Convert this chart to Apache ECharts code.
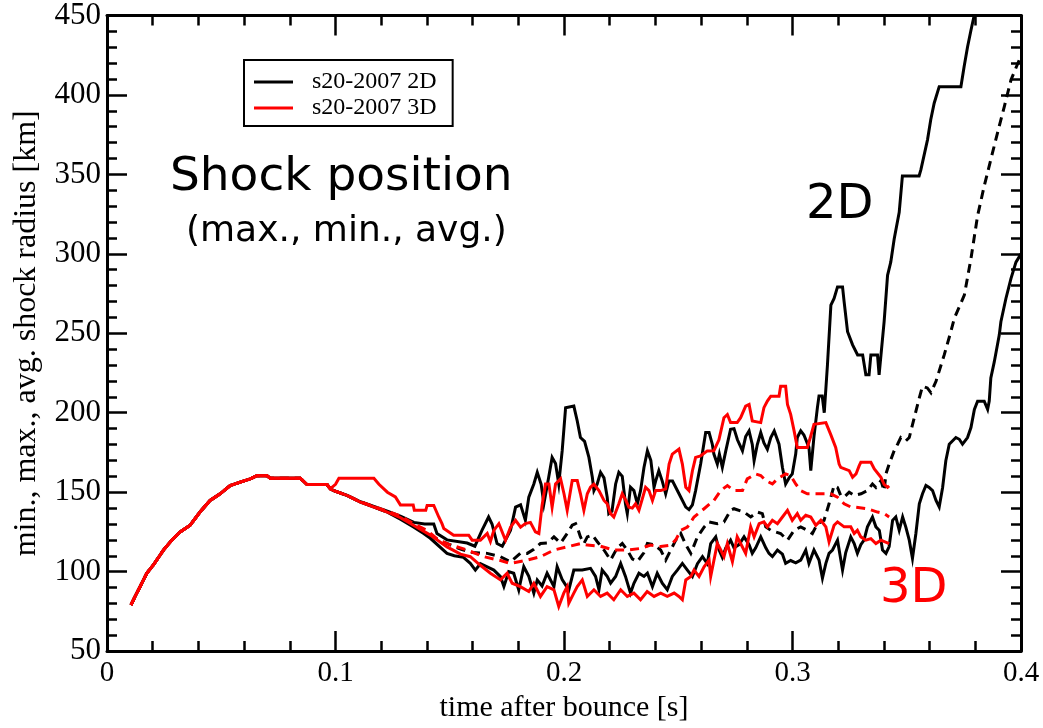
<!DOCTYPE html>
<html><head><meta charset="utf-8">
<script src="https://cdn.jsdelivr.net/npm/echarts@6/dist/echarts.min.js"></script>
<style>html,body{margin:0;padding:0;background:#fff}#c{width:1043px;height:728px}</style>
</head><body><div id="c"></div>
<script>
// ---- data: [time after bounce (s), shock radius (km)] ----
const rise = [[0.0105,79],[0.0123,84.4],[0.0145,90.6],[0.0174,99],[0.0203,104.2],[0.0247,113.6],[0.0283,119.8],[0.032,125],[0.0364,129.2],[0.0407,137.5],[0.0451,144.8],[0.0495,149],[0.0539,154.2],[0.0583,156.3],[0.0627,158.4],[0.0656,160.4],[0.07,160.4],[0.0714,158.8],[0.0846,158.8],[0.0875,154.8],[0.0963,154.8],[0.0977,152.1]];

const max2D = [[0.0992,151],[0.105,148],[0.1109,144],[0.1168,141],[0.1227,138],[0.1284,135],[0.1343,131],[0.139,130],[0.143,130],[0.1444,124],[0.1488,120],[0.1576,118],[0.161,116],[0.1641,126],[0.167,134.4],[0.1685,130],[0.1707,117.7],[0.173,116],[0.1766,126],[0.1788,140.6],[0.181,142],[0.1831,132.3],[0.1846,146.9],[0.1868,155.2],[0.1883,162.5],[0.19,155],[0.1912,142.7],[0.1933,159.4],[0.1948,171.9],[0.1963,168],[0.1977,155.2],[0.1992,176],[0.2007,203.2],[0.2043,204.2],[0.2058,194.8],[0.2072,184.4],[0.209,182],[0.2109,171.9],[0.2124,159.4],[0.2131,151],[0.2145,155],[0.216,162.5],[0.2175,159],[0.2189,146.9],[0.2196,136.5],[0.221,138],[0.2226,155.2],[0.224,162.5],[0.2255,160],[0.2269,142.7],[0.2277,136.5],[0.2291,153.1],[0.2306,151],[0.2321,142.7],[0.2335,151],[0.235,165.6],[0.2365,176],[0.238,170],[0.2394,153.1],[0.2401,157],[0.2415,163.5],[0.243,157],[0.2445,149],[0.2459,157],[0.2475,157],[0.25,150],[0.2533,140.6],[0.2547,139],[0.2562,142],[0.2576,151],[0.2598,167.7],[0.262,187.5],[0.2635,187.5],[0.2649,180.2],[0.2656,174],[0.2671,167.7],[0.268,174],[0.2693,165.6],[0.2708,176],[0.2729,189.6],[0.2744,190],[0.2759,183],[0.2781,176.1],[0.2795,185],[0.281,188.6],[0.2824,180],[0.2832,169.8],[0.2846,180],[0.2861,187.5],[0.2875,181],[0.289,177],[0.2905,184.4],[0.292,188.5],[0.2941,180.2],[0.2956,165.6],[0.297,155.2],[0.2985,159],[0.2999,161.5],[0.3014,174],[0.3021,184.4],[0.3036,188.6],[0.305,186],[0.3072,178.2],[0.308,163.6],[0.3094,185],[0.3109,203.2],[0.3116,210.6],[0.313,210.6],[0.3139,200],[0.3153,230.2],[0.3168,267.7],[0.3182,271.9],[0.3197,279.2],[0.3219,279.2],[0.3226,269.8],[0.3241,251],[0.3263,242.7],[0.3285,236.4],[0.3307,236.4],[0.3321,223.9],[0.3335,223.9],[0.3343,236.4],[0.3372,236.4],[0.3379,223.9],[0.3387,223.9],[0.3401,257.3],[0.3416,286.5],[0.343,294.8],[0.3445,309.4],[0.3467,326.1],[0.3481,349],[0.3554,349],[0.3562,353],[0.3591,371.9],[0.3605,384.4],[0.362,394.8],[0.3642,405.2],[0.3737,405.2],[0.3751,417.7],[0.3766,430.2],[0.3781,440.7],[0.3795,450],[0.381,462]];

const min2D = [[0.0992,151],[0.105,148],[0.1109,143.8],[0.1168,140.7],[0.1227,137.5],[0.1284,133],[0.1343,128],[0.1386,124],[0.1415,121],[0.1488,111.5],[0.152,110],[0.156,109],[0.159,105.2],[0.1612,101],[0.1634,105],[0.1664,103],[0.1693,101],[0.1722,96.9],[0.1737,90.6],[0.1758,100],[0.178,99],[0.1802,88.5],[0.1824,103.1],[0.1846,97],[0.1868,86.5],[0.1883,94.8],[0.1904,91],[0.1926,99],[0.1956,90.6],[0.197,103.1],[0.1992,95],[0.2021,88.5],[0.2043,101],[0.2058,101],[0.208,101],[0.2116,102.1],[0.2138,97],[0.2153,88.6],[0.2167,101],[0.2189,97],[0.2204,92.7],[0.2226,97],[0.2248,105.2],[0.2269,97],[0.2291,86.5],[0.2306,92.7],[0.2328,99],[0.235,97],[0.2365,99],[0.2387,90.6],[0.2408,99],[0.243,92.7],[0.2452,88.6],[0.2474,97],[0.2496,101],[0.2518,105.2],[0.254,101],[0.2562,96.9],[0.2584,105],[0.2606,109.4],[0.2627,105],[0.2642,117.7],[0.2664,121.9],[0.2678,114],[0.2693,109],[0.2708,115],[0.2729,119.8],[0.2744,115],[0.2766,117],[0.2788,121.9],[0.281,117],[0.2824,111.5],[0.2839,115],[0.2861,121.9],[0.2883,115],[0.2897,111.5],[0.2912,109.5],[0.2934,113.6],[0.2956,111],[0.297,105.2],[0.2992,107],[0.3014,105.5],[0.3036,107.3],[0.3058,113.6],[0.3072,105.2],[0.3094,113.6],[0.3116,107.3],[0.3131,95.9],[0.3146,105.2],[0.316,111.5],[0.3175,113.6],[0.3197,119.8],[0.3219,101],[0.3233,112],[0.3255,121.9],[0.327,117.7],[0.3284,111.5],[0.3299,117],[0.3313,119.8],[0.3328,128.2],[0.335,134.4],[0.3365,128.2],[0.338,126],[0.3394,113.6],[0.3409,111.5],[0.3423,115.8],[0.3438,132.3],[0.3452,134.4],[0.3467,126],[0.3482,134.4],[0.3496,128],[0.3511,119.8],[0.3525,108.4],[0.354,124],[0.3555,142.7],[0.3569,149],[0.3584,154.2],[0.3598,153],[0.3613,151],[0.3628,144.8],[0.3642,140.7],[0.3657,153],[0.3671,169.8],[0.3686,180.2],[0.3715,184.4],[0.373,183.3],[0.3744,180.2],[0.3766,184.4],[0.3781,190.7],[0.3796,202.1],[0.381,207.3],[0.3839,207.3],[0.3854,202.1],[0.3861,207.3],[0.3868,221.9],[0.3883,232],[0.3905,249],[0.3912,257.3],[0.3934,271.9],[0.3956,284.4],[0.3978,294.8],[0.4,300]];

const avg2D = [[0.0992,151],[0.105,148],[0.1109,144],[0.1168,140.7],[0.1227,137.5],[0.1284,134],[0.1343,129],[0.14,124],[0.145,120],[0.15,117],[0.155,114],[0.16,112],[0.1664,111.5],[0.1722,109.4],[0.1766,106.2],[0.1809,111.5],[0.1839,111.5],[0.1868,114],[0.1897,117.7],[0.1927,118],[0.1956,121.9],[0.1985,118],[0.2014,124],[0.2036,129.2],[0.2051,130.2],[0.2058,128],[0.2072,121.9],[0.2087,117.7],[0.2102,121.9],[0.2124,123],[0.2145,119],[0.2175,113.6],[0.2204,107.3],[0.2233,115],[0.2255,117.7],[0.2277,113.6],[0.2299,108],[0.2321,106.3],[0.235,112],[0.2365,117.7],[0.2394,117],[0.2423,113.6],[0.2445,107.3],[0.2467,113.6],[0.2489,119.8],[0.2511,124],[0.2533,117],[0.2555,111.5],[0.2584,121.9],[0.2613,128],[0.2634,131.3],[0.2671,130.2],[0.27,131.3],[0.2729,138.6],[0.2744,139.6],[0.2788,137.5],[0.2817,134.4],[0.2846,137.5],[0.2868,136.5],[0.2883,128.2],[0.2905,126],[0.2948,124],[0.2978,119.8],[0.3007,126],[0.3036,128.2],[0.3065,126],[0.3087,124],[0.3109,130.2],[0.3138,132.3],[0.316,142.7],[0.3182,154.2],[0.3197,153],[0.3211,147.9],[0.3226,146.9],[0.3248,150],[0.327,148],[0.33,149],[0.3328,151],[0.335,155.2],[0.3365,153],[0.3387,157.3],[0.3401,151],[0.3409,161.5],[0.3423,167.7],[0.3445,176.1],[0.346,180.2],[0.3474,184.4],[0.3496,182.3],[0.3511,184.4],[0.3533,196.9],[0.3555,209.4],[0.3569,216.7],[0.359,215.6],[0.3606,212.5],[0.3628,219.8],[0.3664,236.4],[0.3693,251],[0.3708,259.4],[0.3752,274],[0.3781,297],[0.381,324],[0.3839,342.7],[0.3868,359.4],[0.3897,376],[0.3927,392.7],[0.3956,409.4],[0.3992,421.9],[0.4,425]];

const max3D = [[0.1,155],[0.1015,158.8],[0.1168,158.8],[0.119,155],[0.1227,150],[0.1262,147],[0.1284,142],[0.134,142],[0.1345,138.6],[0.1395,138.6],[0.1401,141.7],[0.143,141.7],[0.1452,134.4],[0.1466,130.2],[0.1474,127.1],[0.1517,122.9],[0.1583,122.9],[0.1598,119.8],[0.1634,119.8],[0.165,122],[0.1664,124],[0.1678,119],[0.1693,126],[0.1715,130.2],[0.1744,119.8],[0.1766,128],[0.1788,132.3],[0.181,128],[0.1831,130.2],[0.1853,131],[0.1875,125],[0.189,124],[0.1904,141.7],[0.1919,155.2],[0.1934,155.2],[0.1948,140.6],[0.1963,155.2],[0.1985,158.4],[0.2,149],[0.2014,138.6],[0.2036,157.3],[0.2058,157.3],[0.2072,149],[0.2087,138.6],[0.2102,149],[0.2116,153.1],[0.2131,155],[0.2153,151],[0.2175,144.8],[0.2189,142.7],[0.2204,136.5],[0.2218,134.4],[0.224,142.7],[0.2255,149],[0.227,145],[0.2284,140.6],[0.2299,140],[0.2313,142.7],[0.2328,138.6],[0.2343,146],[0.2357,153.1],[0.2372,151],[0.2387,144.8],[0.2401,151],[0.2423,151],[0.2445,152.1],[0.246,167.7],[0.2474,174],[0.2503,177.1],[0.2518,167.7],[0.2533,153.1],[0.2547,151],[0.2562,163.5],[0.2576,171.9],[0.2598,172.9],[0.2627,176],[0.2656,176.1],[0.2678,183],[0.27,196.9],[0.2715,198.9],[0.2729,193.8],[0.2758,193.8],[0.2773,196.9],[0.2795,204.2],[0.281,205.2],[0.2824,194.8],[0.2861,193.8],[0.2875,203.2],[0.289,207.3],[0.2905,210.4],[0.2941,210.4],[0.2948,216.6],[0.297,216.6],[0.2978,205.2],[0.2992,199],[0.3007,188.6],[0.3021,178.2],[0.3065,178.2],[0.308,185.4],[0.3094,192.7],[0.3146,193.8],[0.3167,186.4],[0.3189,178.2],[0.3204,167.7],[0.3211,165.6],[0.3248,163.6],[0.3263,159.4],[0.3278,161.5],[0.3292,166.7],[0.3299,168.8],[0.3343,168.8],[0.3358,164.6],[0.3387,159.4],[0.3401,155],[0.3416,153.1],[0.3423,154]];

const min3D = [[0.0992,151],[0.105,148],[0.1109,143.8],[0.1168,140.7],[0.1227,137.5],[0.1284,134],[0.1343,129],[0.1415,123],[0.1488,115.6],[0.1547,111],[0.159,109.4],[0.1634,104],[0.1678,99],[0.1722,94.8],[0.1751,99],[0.1773,92.7],[0.1809,90.6],[0.1846,87.5],[0.1868,92.7],[0.1897,84.4],[0.1926,90.6],[0.1956,88.6],[0.1977,78.1],[0.1999,86.5],[0.2014,90.6],[0.2021,80.2],[0.2043,86.5],[0.2058,90.6],[0.208,94.8],[0.2102,84.4],[0.2131,88.6],[0.216,84.4],[0.2189,86.5],[0.2218,82.3],[0.2248,88.6],[0.2277,84.4],[0.2306,86.5],[0.2335,82.3],[0.2364,87.5],[0.2394,84.4],[0.2423,86.5],[0.2452,84.4],[0.2482,86.5],[0.2503,84.4],[0.2518,82.3],[0.2533,94.8],[0.2555,96.9],[0.2569,101],[0.2591,97],[0.2613,103.1],[0.2635,107.3],[0.2642,96.9],[0.2656,107],[0.2671,117.7],[0.2686,113.6],[0.27,109.4],[0.2715,117.7],[0.2737,106.3],[0.2758,121.9],[0.2773,117.7],[0.2795,111.5],[0.2817,128.2],[0.2832,121.9],[0.2854,130.2],[0.2875,131.3],[0.289,128.2],[0.2912,132.3],[0.2934,130.2],[0.2956,134.4],[0.2978,138.6],[0.2999,132.3],[0.3021,136.5],[0.3036,132.3],[0.3058,135.5],[0.308,134.4],[0.3102,129.2],[0.3124,132.3],[0.3146,128.2],[0.316,118.8],[0.3182,129.2],[0.3197,131.3],[0.3226,128.2],[0.3255,128.2],[0.327,124],[0.3284,126],[0.3299,121.9],[0.3321,119.8],[0.3343,120.8],[0.3365,117.7],[0.3387,119.8],[0.3423,117.7]];

const avg3D = [[0.0992,151],[0.105,148],[0.1109,144],[0.1168,141],[0.1227,138],[0.1284,135],[0.1343,130],[0.14,126],[0.145,120],[0.15,117],[0.1576,113.6],[0.165,109.4],[0.1722,107],[0.1766,105.2],[0.1839,107.3],[0.1897,109.4],[0.1956,113.6],[0.2014,115.6],[0.2073,117.7],[0.2102,116.7],[0.216,116],[0.2218,113.6],[0.2277,113.6],[0.2335,114.6],[0.2379,116.7],[0.2423,115.8],[0.2467,116.7],[0.2489,120],[0.2511,126],[0.254,128],[0.2569,134.4],[0.2613,139.6],[0.2656,144.8],[0.2686,151],[0.2715,154.2],[0.2744,151],[0.2781,151],[0.2802,158.4],[0.2839,161.5],[0.2861,160.5],[0.2883,157.3],[0.2912,155.2],[0.2934,158.4],[0.297,161.5],[0.2992,160.5],[0.3014,155.2],[0.3036,151],[0.3065,149],[0.3167,149],[0.3197,146.9],[0.3226,142.7],[0.3255,140.7],[0.327,140.7],[0.3328,139.6],[0.3372,137.5],[0.3401,136.5],[0.3423,134.4]];

const xTicks = {min: 0, max: 0.4, step: 0.1};
const yTicks = {min: 50, max: 450, step: 50};
const name2D = 's20-2007 2D';
const name3D = 's20-2007 3D';

// ---- chart ----
const chart = echarts.init(document.getElementById('c'), null, {renderer: 'canvas'});
function mk(name, part, color, dashed) {
  return {
    type: 'line', name: name, data: rise.concat(part), symbol: 'none', showSymbol: false,
    animation: false, clip: true,
    lineStyle: {color: color, width: 3, type: dashed ? [9, 6] : 'solid', join: 'miter'},
    itemStyle: {color: color}
  };
}
const serif = 'Liberation Serif, Times New Roman, serif';
const sans = 'DejaVu Sans, sans-serif';
function axisCommon(extra) {
  return Object.assign({
    type: 'value',
    axisLine: {show: true, onZero: false, lineStyle: {color: '#000', width: 3}},
    axisTick: {show: true, inside: true, length: 20, lineStyle: {color: '#000', width: 2.5}},
    minorTick: {show: true, splitNumber: 5, length: 10, lineStyle: {color: '#000', width: 2.5}},
    splitLine: {show: false}, minorSplitLine: {show: false}
  }, extra);
}
chart.setOption({
  backgroundColor: '#fff',
  animation: false,
  grid: {left: 107, right: 22, top: 15, bottom: 73, containLabel: false},
  legend: {
    data: [{name: name2D, icon: 'rect'}, {name: name3D, icon: 'rect'}],
    orient: 'vertical', left: 244, top: 60,
    padding: [10, 16, 6, 10], itemGap: 2, itemWidth: 39, itemHeight: 3,
    borderColor: '#000', borderWidth: 2, selectedMode: false,
    textStyle: {fontFamily: serif, fontSize: 24, color: '#000', lineHeight: 24, padding: [0, 0, 0, 14]}
  },
  xAxis: [
    axisCommon({min: xTicks.min, max: xTicks.max, interval: xTicks.step, position: 'bottom',
      name: 'time after bounce [s]', nameLocation: 'middle', nameGap: 40,
      nameTextStyle: {fontFamily: serif, fontSize: 30, color: '#000'},
      axisLabel: {fontFamily: serif, fontSize: 29, color: '#000', margin: 8}}),
    axisCommon({min: xTicks.min, max: xTicks.max, interval: xTicks.step, position: 'top',
      axisLabel: {show: false}})
  ],
  yAxis: [
    axisCommon({min: yTicks.min, max: yTicks.max, interval: yTicks.step, position: 'left',
      name: 'min., max., avg. shock radius [km]', nameLocation: 'middle', nameGap: 64,
      nameTextStyle: {fontFamily: serif, fontSize: 32, color: '#000'},
      axisLabel: {fontFamily: serif, fontSize: 31, color: '#000', margin: 6}}),
    axisCommon({min: yTicks.min, max: yTicks.max, interval: yTicks.step, position: 'right',
      axisLabel: {show: false}})
  ],
  series: [
    mk(name2D, max2D, '#000', false),
    mk(name2D, min2D, '#000', false),
    mk(name2D, avg2D, '#000', true),
    mk(name3D, max3D, '#ff0000', false),
    mk(name3D, min3D, '#ff0000', false),
    mk(name3D, avg3D, '#ff0000', true)
  ],
  graphic: [
    {type: 'text', left: 170, top: 154, style: {text: 'Shock position', font: '47px ' + sans, fill: '#000'}},
    {type: 'text', left: 186, top: 214, style: {text: '(max., min., avg.)', font: '36px ' + sans, fill: '#000'}},
    {type: 'text', left: 806, top: 182, style: {text: '2D', font: '48px ' + sans, fill: '#000'}},
    {type: 'text', left: 880, top: 566, style: {text: '3D', font: '48px ' + sans, fill: '#ff0000'}}
  ]
});
</script></body></html>
